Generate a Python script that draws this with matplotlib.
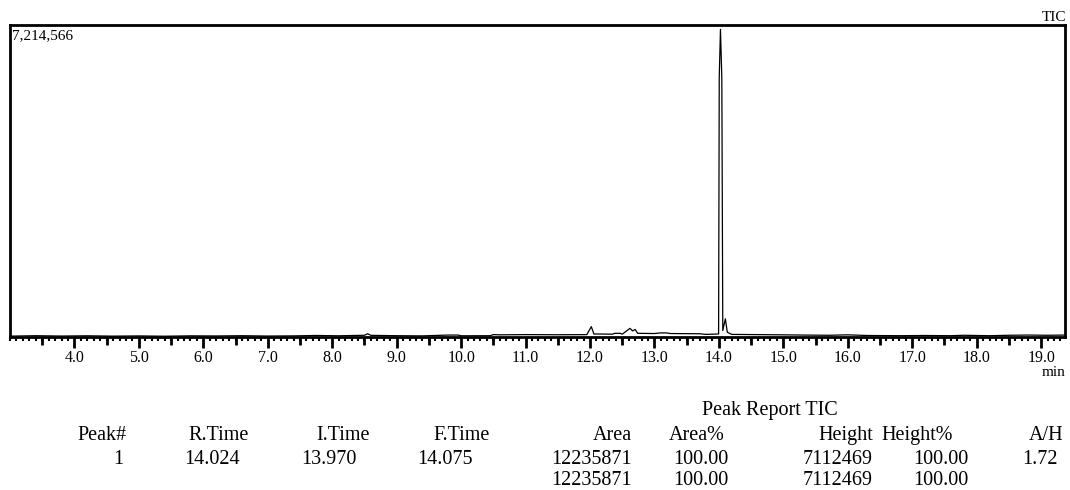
import numpy as np
import matplotlib.pyplot as plt
from matplotlib.ticker import MultipleLocator

plt.rcParams['font.family'] = ['Liberation Serif', 'DejaVu Serif']

# TIC chromatogram (min, counts)
TIME = [3.00, 3.40, 3.80, 4.20, 4.60, 5.00, 5.40, 5.80, 6.20, 6.60, 7.00,
        7.40, 7.75, 8.10, 8.50, 8.55, 8.60, 9.00, 9.40, 9.80, 9.95, 10.00,
        10.45, 10.50, 10.60, 11.00, 11.50, 11.95, 12.02, 12.06, 12.35, 12.38,
        12.47, 12.50, 12.62, 12.66, 12.70, 12.74, 13.00, 13.10, 13.18, 13.25,
        13.70, 13.80, 13.995, 14.005, 14.024, 14.045, 14.06, 14.10, 14.13,
        14.20, 14.60, 15.00, 15.30, 15.70, 16.00, 16.30, 16.80, 17.20, 17.60,
        17.80, 18.20, 18.50, 18.80, 19.10, 19.37]
INTENSITY = [20000, 30000, 22000, 28000, 20000, 25000, 18000, 27000, 24000,
             30000, 22000, 26000, 35000, 28000, 40000, 75000, 38000, 30000,
             26000, 45000, 45000, 28000, 30000, 55000, 50000, 55000, 52000,
             55000, 240000, 70000, 65000, 85000, 85000, 65000, 200000, 140000,
             175000, 85000, 80000, 95000, 95000, 80000, 75000, 60000, 70000,
             6000000, 7112469, 6000000, 150000, 420000, 110000, 60000, 55000,
             50000, 45000, 40000, 50000, 35000, 30000, 35000, 30000, 40000,
             30000, 40000, 45000, 40000, 45000]

Y_MAX = 7214566

# peak report
HEADERS = ['Peak#', 'R.Time', 'I.Time', 'F.Time', 'Area', 'Area%',
           'Height', 'Height%', 'A/H']
ROW1 = ['1', '14.024', '13.970', '14.075', '12235871', '100.00',
        '7112469', '100.00', '1.72']
ROW2 = ['', '', '', '', '12235871', '100.00', '7112469', '100.00', '']

fig = plt.figure(figsize=(10.7, 4.9), dpi=100)
ax = fig.add_axes([10 / 1070, 1 - 337 / 490, 1055 / 1070, 312 / 490])

ax.plot(TIME, INTENSITY, color='black', lw=0.9)
ax.set_xlim(3.0, 19.37)
ax.set_ylim(0, Y_MAX)

for s in ax.spines.values():
    s.set_linewidth(2)
ax.set_yticks([])
ax.xaxis.set_major_locator(MultipleLocator(1.0))
ax.xaxis.set_minor_locator(MultipleLocator(0.1))
ax.set_xticks(np.arange(4, 20, 1.0))
ax.set_xticklabels(['%.1f' % v for v in np.arange(4, 20, 1.0)], fontsize=11.5)
ax.tick_params(axis='x', which='major', direction='out', length=8, width=2, pad=1)
ax.tick_params(axis='x', which='minor', direction='out', length=3, width=1.5)

# half-minute ticks
sec = ax.secondary_xaxis('bottom')
sec.set_xticks(np.arange(3.5, 19.5, 1.0))
sec.tick_params(length=6, width=2, labelbottom=False)
sec.spines['bottom'].set_visible(False)

ax.text(0.002, 0.985, '{:,}'.format(Y_MAX), transform=ax.transAxes,
        ha='left', va='top', fontsize=11)
fig.text(1066 / 1070, 1 - 24 / 490, 'TIC', ha='right', va='bottom', fontsize=11)
fig.text(1066 / 1070, 1 - 372 / 490, 'min', ha='right', va='center', fontsize=11)

# table
fig.text(770 / 1070, 1 - 410 / 490, 'Peak Report TIC', ha='center', va='center',
         fontsize=14.5)
head_x = [127, 249, 370, 490, 632, 725, 873, 953, 1063]
val_x = [123, 240, 357, 473, 632, 728, 873, 968, 1058]
for i in range(len(HEADERS)):
    fig.text(head_x[i] / 1070, 1 - 435 / 490, HEADERS[i], ha='right',
             va='center', fontsize=14.5)
    fig.text(val_x[i] / 1070, 1 - 459 / 490, ROW1[i], ha='right',
             va='center', fontsize=14.5)
    fig.text(val_x[i] / 1070, 1 - 480 / 490, ROW2[i], ha='right',
             va='center', fontsize=14.5)

fig.savefig('out.png', dpi=100)
